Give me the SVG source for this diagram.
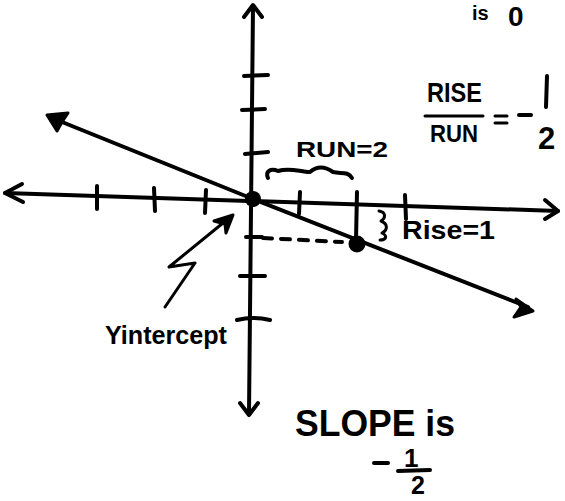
<svg xmlns="http://www.w3.org/2000/svg" width="565" height="501" viewBox="0 0 565 501">
<style>
.ln{fill:none;stroke:#000;stroke-width:4;stroke-linecap:round;stroke-linejoin:round}
.tk{fill:none;stroke:#000;stroke-width:4;stroke-linecap:round}
.th{fill:none;stroke:#000;stroke-width:3;stroke-linecap:round;stroke-linejoin:round}
.hd{fill:#000;stroke:#000;stroke-width:3;stroke-linejoin:round}
.t{font-family:"Liberation Sans",Arial,sans-serif;fill:#000;font-weight:bold}
</style>
<rect width="565" height="501" fill="#fff"/>
<g id="axes">
  <path class="ln" d="M253,6 L249,414"/>
  <path class="ln" d="M244,17 L253,5 L262,17"/>
  <path class="ln" d="M240,403 L249,415 L258,403"/>
  <path class="ln" d="M5,193 L558,211"/>
  <path class="ln" d="M22,184 L5,193 L23,202"/>
  <path class="ln" d="M545,200 L558,211 L545,219"/>
  <g id="xticks">
    <path class="tk" d="M97,186 L97,209"/>
    <path class="tk" d="M154,188 L155,211"/>
    <path class="tk" d="M206,190 L205,213"/>
    <path class="tk" d="M300,192 L299,214"/>
    <path class="tk" d="M357,192 L356,240"/>
    <path class="tk" d="M405,195 L406,219"/>
  </g>
  <g id="yticks">
    <path class="tk" d="M244,76 L268,75"/>
    <path class="tk" d="M242,110 L265,109"/>
    <path class="tk" d="M245,154 L268,152"/>
    <path class="tk" d="M246,237 L262,237"/>
    <path class="tk" d="M240,276 L265,276"/>
    <path class="tk" d="M237,320 Q253,316 270,320"/>
  </g>
</g>
<g id="line">
  <path class="ln" d="M62,122 L253,199 L528,307"/>
  <path class="hd" d="M47,115 L68,113 L62,122 L57,131 Z"/>
  <path class="hd" d="M533,311 L516,299 L521,307 L514,317 Z"/>
</g>
<g id="points">
  <circle cx="253" cy="199" r="8" fill="#000"/>
  <circle cx="357" cy="244" r="8.5" fill="#000"/>
  <path class="ln" d="M263,238 L342,242" stroke-dasharray="9 9"/>
</g>
<g id="run-brace">
  <path class="ln" d="M268,178 C265,171 271,168 278,171 C290,167 300,172 310,172 C318,165 326,167 333,172 C341,174 348,171 352,178"/>
  <text class="t" x="296" y="157" font-size="22" textLength="92" lengthAdjust="spacingAndGlyphs">RUN=2</text>
</g>
<g id="rise-brace">
  <path class="th" d="M379,211 C386,212 386,218 381,221 C388,224 388,230 382,233 C388,236 386,240 380,240"/>
  <text class="t" x="402" y="239" font-size="25" textLength="93" lengthAdjust="spacingAndGlyphs">Rise=1</text>
</g>
<g id="ratio">
  <text class="t" x="427" y="102" font-size="28" textLength="55" lengthAdjust="spacingAndGlyphs">RISE</text>
  <path class="th" d="M425,116 L483,116"/>
  <text class="t" x="430" y="142" font-size="24" textLength="48" lengthAdjust="spacingAndGlyphs">RUN</text>
  <path class="th" d="M495,116 L507,116 M495,123 L507,123"/>
  <path class="ln" d="M519,115 L531,115"/>
  <path class="ln" d="M547,76 L546,107"/>
  <text class="t" x="538" y="149" font-size="31">2</text>
</g>
<g id="is-zero">
  <text class="t" x="472" y="20" font-size="20">is</text>
  <text class="t" x="508" y="26" font-size="28">0</text>
</g>
<g id="yintercept">
  <path class="th" d="M165,307 L195,263 L169,267 L223,223"/>
  <path class="hd" d="M233,215 L214,221 L225,224 L226,233 Z"/>
  <text class="t" x="105" y="344" font-size="26" textLength="122" lengthAdjust="spacingAndGlyphs">Yintercept</text>
</g>
<g id="slope">
  <text class="t" x="295" y="436" font-size="37" textLength="160" lengthAdjust="spacingAndGlyphs">SLOPE is</text>
  <path class="ln" d="M374,463 L388,463"/>
  <text class="t" x="404" y="467" font-size="26">1</text>
  <path class="ln" d="M398,471 L430,470"/>
  <text class="t" x="411" y="494" font-size="25">2</text>
</g>
</svg>
